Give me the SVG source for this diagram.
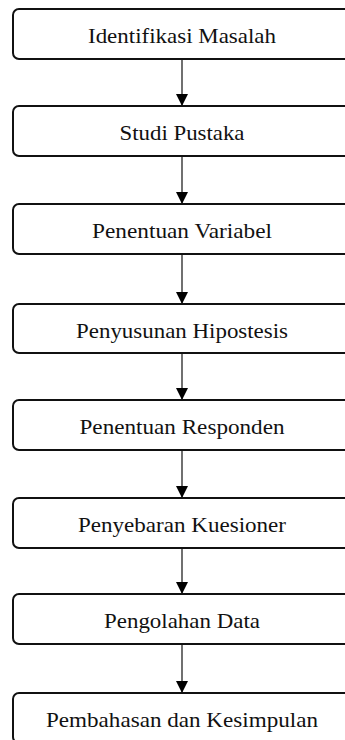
<svg xmlns="http://www.w3.org/2000/svg" width="345" height="740" viewBox="0 0 345 740">
<defs>
<marker id="ah" markerWidth="12" markerHeight="12" refX="12" refY="6" orient="auto" markerUnits="userSpaceOnUse">
<path d="M0,0 L12,6 L0,12 Z" fill="#000"/>
</marker>
<style>
.box{fill:#fff;stroke:#111;stroke-width:2}
.lbl{font-family:"Liberation Serif","Times New Roman",serif;font-size:22px;fill:#111;text-anchor:middle}
.con{stroke:#111;stroke-width:1.2;fill:none}
</style>
</defs>
<rect width="345" height="740" fill="#fff"/>
<g id="connectors">
<line class="con" x1="182" y1="59" x2="182" y2="106" marker-end="url(#ah)"/>
<line class="con" x1="182" y1="156" x2="182" y2="204" marker-end="url(#ah)"/>
<line class="con" x1="182" y1="254" x2="182" y2="304" marker-end="url(#ah)"/>
<line class="con" x1="182" y1="353" x2="182" y2="400" marker-end="url(#ah)"/>
<line class="con" x1="182" y1="450" x2="182" y2="498" marker-end="url(#ah)"/>
<line class="con" x1="182" y1="548" x2="182" y2="594" marker-end="url(#ah)"/>
<line class="con" x1="182" y1="644" x2="182" y2="693" marker-end="url(#ah)"/>
</g>
<g id="n1"><rect class="box" x="13" y="9" width="345" height="50" rx="6"/><text class="lbl" x="182" y="43" textLength="188" lengthAdjust="spacingAndGlyphs">Identifikasi Masalah</text></g>
<g id="n2"><rect class="box" x="13" y="106" width="345" height="50" rx="6"/><text class="lbl" x="182" y="140" textLength="125" lengthAdjust="spacingAndGlyphs">Studi Pustaka</text></g>
<g id="n3"><rect class="box" x="13" y="204" width="345" height="50" rx="6"/><text class="lbl" x="182" y="238" textLength="180" lengthAdjust="spacingAndGlyphs">Penentuan Variabel</text></g>
<g id="n4"><rect class="box" x="13" y="304" width="345" height="49" rx="6"/><text class="lbl" x="182" y="338" textLength="212" lengthAdjust="spacingAndGlyphs">Penyusunan Hipostesis</text></g>
<g id="n5"><rect class="box" x="13" y="400" width="345" height="50" rx="6"/><text class="lbl" x="182" y="434" textLength="205" lengthAdjust="spacingAndGlyphs">Penentuan Responden</text></g>
<g id="n6"><rect class="box" x="13" y="498" width="345" height="50" rx="6"/><text class="lbl" x="182" y="532" textLength="208" lengthAdjust="spacingAndGlyphs">Penyebaran Kuesioner</text></g>
<g id="n7"><rect class="box" x="13" y="594" width="345" height="50" rx="6"/><text class="lbl" x="182" y="628" textLength="156" lengthAdjust="spacingAndGlyphs">Pengolahan Data</text></g>
<g id="n8"><rect class="box" x="13" y="693" width="345" height="50" rx="6"/><text class="lbl" x="182" y="727" textLength="272" lengthAdjust="spacingAndGlyphs">Pembahasan dan Kesimpulan</text></g>
</svg>
